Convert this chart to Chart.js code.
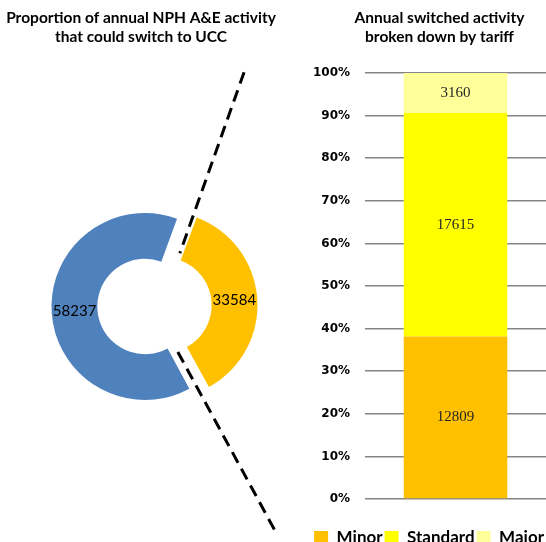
<!DOCTYPE html>
<html>
<head>
<meta charset="utf-8">
<script src="https://cdn.jsdelivr.net/npm/chart.js@4.4.1/dist/chart.umd.min.js"></script>
<style>
    body { margin: 0; background: #fff; }
    #wrap { position: relative; width: 546px; height: 542px; }
    .box { position: absolute; top: 0; height: 542px; }
</style>
</head>
<body>
<div id="wrap">
    <div class="box" style="left:0;width:280px"><canvas id="pieChart"></canvas></div>
    <div class="box" style="left:280px;width:266px"><canvas id="barChart"></canvas></div>
</div>
<script>
// Doughnut data: annual NPH A&E activity
const pieLabels = ['Stays at A&E', 'Could switch to UCC'];
const pieValues = [58237, 33584];
const pieColors = ['#4F81BD', '#FFC000'];

// Bar data: switched activity by tariff
const tariffLabels = ['Minor', 'Standard', 'Major'];
const tariffValues = [12809, 17615, 3160];
const tariffColors = ['#FFC000', '#FFFF00', '#FFFF99'];
const yTickStep = 10;

const tariffTotal = tariffValues.reduce((a, b) => a + b, 0);
const tariffPct = tariffValues.map(v => v / tariffTotal * 100);

const titleFont = { family: 'Lato', size: 15.5, weight: 'bold', lineHeight: 1.226 };
const titlePadding = { top: 8, bottom: 27 };

const toRad = deg => (deg - 90) * Math.PI / 180;
const toDeg = rad => rad * 180 / Math.PI + 90;

// Move the title box sideways without touching the plot area
const titleShift = {
    id: 'titleShift',
    afterLayout(chart, args, opts) {
        const t = chart.titleBlock;
        if (opts.left != null) t.left = opts.left;
        if (opts.right != null) t.right = opts.right;
    }
};

// Keep the exploded slice at the same radius as the rest of the ring
const explodeFix = {
    id: 'explodeFix',
    afterUpdate(chart) {
        chart.getDatasetMeta(0).data.forEach(arc => {
            const off = (arc.options.offset || 0) / 4;
            if (!off) return;
            const fix = 1 - Math.sin(Math.min(Math.PI, arc.circumference));
            arc.outerRadius -= off * fix;
            arc.innerRadius -= off * fix;
        });
    }
};

// Value labels + dashed "cut" lines around the switched slice
const pieExtras = {
    id: 'pieExtras',
    afterDatasetsDraw(chart) {
        const ctx = chart.ctx;
        const meta = chart.getDatasetMeta(0);
        const ctrl = meta.controller;
        const R = ctrl.outerRadius;
        const midR = (ctrl.outerRadius + ctrl.innerRadius) / 2;

        ctx.save();
        ctx.font = '15px Lato';
        ctx.fillStyle = '#000';
        ctx.textAlign = 'center';
        ctx.textBaseline = 'middle';
        meta.data.forEach((arc, i) => {
            const mid = (arc.startAngle + arc.endAngle) / 2;
            const r = midR + (arc.options.offset || 0) / 4;
            ctx.fillText(pieValues[i], arc.x + Math.cos(mid) * r, arc.y + Math.sin(mid) * r);
        });

        // lines follow the edges of the exploded slice
        const slice = meta.data[1];
        const cx = slice.x, cy = slice.y;
        const s = toDeg(slice.startAngle), e = toDeg(slice.endAngle);
        const pt = (deg, k) => [cx + Math.cos(toRad(deg)) * k * R, cy + Math.sin(toRad(deg)) * k * R];
        const lines = [
            [pt(s + 2.9, 2.72), pt(s + 13.2, 0.68)],
            [pt(e - 7.5, 0.60), pt(e - 1.8, 2.79)]
        ];
        ctx.strokeStyle = '#000';
        ctx.lineWidth = 3;
        ctx.setLineDash([12, 7]);
        lines.forEach(([a, b]) => {
            ctx.beginPath();
            ctx.moveTo(a[0], a[1]);
            ctx.lineTo(b[0], b[1]);
            ctx.stroke();
        });
        ctx.restore();
    }
};

const barLabels = {
    id: 'barLabels',
    afterDatasetsDraw(chart) {
        const ctx = chart.ctx;
        ctx.save();
        ctx.font = '15px "Liberation Serif"';
        ctx.fillStyle = '#262626';
        ctx.textAlign = 'center';
        ctx.textBaseline = 'middle';
        chart.data.datasets.forEach((ds, i) => {
            const bar = chart.getDatasetMeta(i).data[0];
            ctx.fillText(tariffValues[i], bar.x, (bar.y + bar.base) / 2);
        });
        ctx.restore();
    }
};

new Chart(document.getElementById('pieChart'), {
    type: 'doughnut',
    data: {
        labels: pieLabels,
        datasets: [{
            data: pieValues,
            backgroundColor: pieColors,
            borderWidth: 0,
            offset: [0, 76]
        }]
    },
    options: {
        responsive: true,
        maintainAspectRatio: false,
        animation: false,
        events: [],
        rotation: 151.7,
        radius: 93.5,
        cutout: '51%',
        layout: { padding: { left: 10, bottom: 2 } },
        plugins: {
            legend: { display: false },
            tooltip: { enabled: false },
            titleShift: { left: 0, right: 282 },
            title: {
                display: true,
                text: ['Proportion of annual NPH A&E activity', 'that could switch to UCC'],
                color: '#000',
                font: titleFont,
                padding: titlePadding
            }
        }
    },
    plugins: [titleShift, explodeFix, pieExtras]
});

new Chart(document.getElementById('barChart'), {
    type: 'bar',
    data: {
        labels: [''],
        datasets: tariffLabels.map((name, i) => ({
            label: name,
            data: [tariffPct[i]],
            backgroundColor: tariffColors[i],
            borderWidth: 0,
            barPercentage: 0.572,
            categoryPercentage: 1
        }))
    },
    options: {
        responsive: true,
        maintainAspectRatio: false,
        animation: false,
        events: [],
        layout: { padding: { left: 30, bottom: -14.5 } },
        plugins: {
            tooltip: { enabled: false },
            titleShift: { left: 53, right: 266 },
            title: {
                display: true,
                text: ['Annual switched activity', 'broken down by tariff'],
                color: '#000',
                font: titleFont,
                padding: titlePadding
            },
            legend: {
                position: 'bottom',
                align: 'end',
                labels: {
                    boxWidth: 14,
                    boxHeight: 14,
                    padding: 2,
                    color: '#000',
                    font: { family: 'Lato', size: 17, weight: 'bold' }
                }
            }
        },
        scales: {
            x: {
                stacked: true,
                grid: { display: false },
                border: { display: false },
                ticks: { display: false },
                afterFit: s => { s.height = 28.5; }
            },
            y: {
                stacked: true,
                min: 0,
                max: 100,
                grid: { color: '#868686', lineWidth: 1.5, drawTicks: false },
                border: { display: false },
                ticks: {
                    stepSize: yTickStep,
                    padding: 15,
                    color: '#000',
                    font: { family: 'DejaVu Sans', size: 12, weight: 'bold' },
                    callback: v => v + '%'
                },
                afterFit: s => { s.width = 55; }
            }
        }
    },
    plugins: [titleShift, barLabels]
});
</script>
</body>
</html>
